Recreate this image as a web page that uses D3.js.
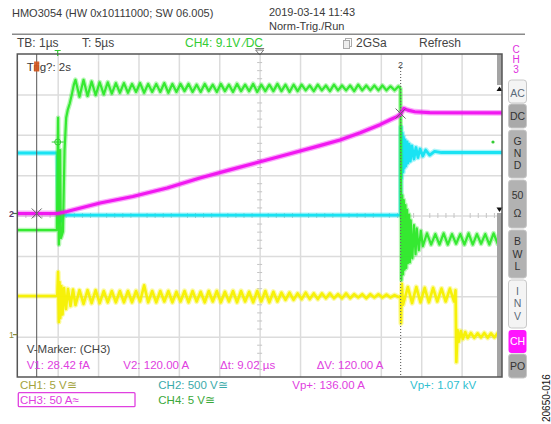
<!DOCTYPE html>
<html><head><meta charset="utf-8">
<script src="https://cdn.jsdelivr.net/npm/d3@7/dist/d3.min.js"></script>
<style>
html,body{margin:0;padding:0;background:#fff;}
svg{display:block;}
text{font-family:"Liberation Sans",Arial,Helvetica,sans-serif;}
</style></head><body>
<svg id="chart" width="551" height="424"></svg>
<script>
// ================= DATA =================
const timeDomain = [-1, 11];                 // µs  (TB 1 µs/div, 12 div, T = 5 µs at centre)
const divDomain  = [-4, 4];                  // vertical divisions
const gridTimes  = [0,1,2,3,4,5,6,7,8,9,10];
const gridDivs   = [-3,-2,-1,0,1,2,3];

const channelNames = ["CH1","CH2","CH3","CH4"];
const unitsPerDiv  = [5, 500, 50, 5];        // V/div, V/div, A/div, V/div
const groundDiv    = [-2.95, 0.05, 0.05, 0]; // reference level of each channel (div)

// --- CH1 (yellow) volts ---
const ch1EdgeT = [-1, -0.01, 0.01, 0.03, 0.045, 0.064, 0.089, 0.119, 0.156, 0.205, 0.255, 0.317, 0.379, 0.44];
const ch1EdgeV = [4.78, 4.78, 7.75, 1.56, 6.5, 2.06, 6.0, 2.5, 5.77, 3.17, 5.65, 3.54, 5.58, 3.66];
const ch1RingStart = 0.54, ch1RingStep = 0.1;
const ch1Ring = [5.5,3.8,5.5,3.9,5.5,3.9,5.4,4.0,5.4,4.0,
                 5.4,4.0,5.4,4.0,5.4,4.1,6.1,4.0,5.4,4.0,
                 5.4,4.1,5.4,4.0,5.3,4.1,5.4,4.0,5.4,4.1,
                 5.3,4.0,5.4,4.1,5.4,4.0,5.3,4.1,5.4,4.0,
                 5.4,4.1,5.3,4.0,5.4,4.1,5.4,4.0,5.3,4.1,
                 5.2,4.3,5.2,4.3,5.1,4.4,5.2,4.4,5.1,4.4,
                 5.1,4.5,5.1,4.5,5.0,4.5,5.1,4.5,5.0,4.6,
                 5.0,4.5,5.0,4.6,5.0,4.6,4.95,4.6,4.9,4.65];
const ch1OffT = [8.49, 8.50, 8.52, 8.55];
const ch1OffV = [4.78, 1.4, 6.3, 3.7];
const ch1Ring2Start = 8.67, ch1Ring2Step = 0.104;
const ch1Ring2 = [5.9,3.9,5.9,4.0,5.8,4.0,5.8,4.1,5.7,4.1,5.7,4.1];
const ch1DropT = [9.85, 9.87, 9.90, 9.93, 9.98, 10.03, 10.09, 10.15];
const ch1DropV = [5.5, -3.4, 0.57, -0.9, 0.45, -0.55, 0.32, -0.42];
const ch1Ring3Start = 10.23, ch1Ring3Step = 0.083;
const ch1Ring3 = [0.2,-0.4,0.15,-0.35,0.2,-0.4,0.15,-0.35,0.2,-0.35];

// --- CH2 (cyan) volts ---
const ch2T = [-1, -0.01, 0.02, 0.05, 0.08, 0.12, 0.16, 8.48,
              8.49, 8.50, 8.51, 8.53, 8.55, 8.56, 8.58, 8.60, 8.62, 8.65, 8.67, 8.70,
              8.73, 8.77, 8.82, 8.87, 8.92, 8.97, 9.04, 9.11, 9.21, 9.33, 9.5, 11];
const ch2V = [749, 749, -120, 30, -90, -30, -20, -20,
              -20, 1070, 437, 996, 514, 947, 563, 910, 588, 885, 625, 860,
              650, 836, 675, 817, 693, 798, 712, 786, 724, 770, 755, 755];

// --- CH3 (magenta) amps ---
const ch3T = [-1, 0, 0.23, 1.05, 1.86, 2.71, 3.52, 4.26, 5.01, 5.75, 6.49, 6.99, 7.49, 7.98, 8.23, 8.40, 8.49, 8.57, 8.67, 8.84, 9.21, 11];
const ch3I = [0, 0, 2.5, 13, 21, 31.6, 44, 54, 64, 74, 84, 91, 100, 110, 116, 120, 123, 130, 128, 126, 125, 124.5];

// --- CH4 (green) volts ---
const ch4EdgeT = [-1, -0.02, 0.01, 0.03, 0.06, 0.08, 0.13, 0.17, 0.21, 0.25, 0.30, 0.35, 0.40, 0.44];
const ch4EdgeV = [-1.8, -1.8, 12.1, -3.6, 8.1, -2.8, -2.0, 8.1, 12.1, 13.1, 13.9, 15.0, 16.2, 16.8];
const ch4RingStart = 0.54, ch4RingStep = 0.1;
const ch4Ring = [14.7,16.8,14.8,16.6,14.9,16.5,15.0,16.5,15.1,16.4,
                 15.2,16.4,15.2,16.3,15.3,16.4,15.2,16.3,15.3,16.3,
                 15.3,16.4,15.2,16.3,15.3,16.3,15.4,16.3,15.3,16.2,
                 15.3,16.3,15.4,16.2,15.3,16.3,15.4,16.2,15.3,16.3,
                 15.4,16.2,15.4,16.3,15.3,16.2,15.4,16.2,15.4,16.3,
                 15.4,16.2,15.3,16.2,15.4,16.2,15.5,16.1,15.4,16.2,
                 15.5,16.1,15.4,16.2,15.5,16.1,15.5,16.1,15.4,16.2,
                 15.5,16.1,15.5,16.1,15.5,16.1,15.5,16.0,15.5,16.0];
const ch4OffT = [8.485, 8.50, 8.51, 8.53, 8.55, 8.57, 8.59, 8.61, 8.63, 8.65, 8.67, 8.70, 8.72, 8.74, 8.78, 8.82, 8.86, 8.89, 8.94, 8.99];
const ch4OffV = [15.7, 1.9, -8.0, 2.5, -7.3, 1.9, -6.7, 1.3, -6.5, 0.7, -5.9, 0.1, -5.8, -0.6, -5.3, -1.2, -4.8, -1.6, -4.3, -1.9];
const ch4Ring2Start = 9.04, ch4Ring2Step = 0.103;
const ch4Ring2 = [-3.8,-2.2,-3.6,-2.3,-3.6,-2.2,-3.6,-2.3,-3.5,-2.3,-3.6,-2.2,-3.6,-2.3,-3.5,-2.3,-3.6,-2.2,-3.5,-2.3];

// markers
const cursorTimes = [-0.52, 8.49];
const ch3MarkerLevels = [0, 120];   // A
const ch4TrigLevel = 9.1;           // V
const triggerTime = 0;

// texts
const headerModel = "HMO3054 (HW 0x10111000; SW 06.005)";
const headerDate = "2019-03-14 11:43";
const headerMode = "Norm-Trig./Run";
const statusTB = "TB: 1µs", statusT = "T: 5µs", statusTrig = "CH4: 9.1V ⁄DC", statusRate = "2GSa", statusAcq = "Refresh";
const markerTitle = "V-Marker: (CH3)";
const markerReadouts = ["V1: 28.42 fA", "V2: 120.00 A", "Δt: 9.02 µs", "ΔV: 120.00 A"];
const channelLabels = ["CH1: 5 V≅", "CH2: 500 V≅", "CH3: 50 A≈", "CH4: 5 V≅"];
const peakReadouts = ["Vp+: 136.00 A", "Vp+: 1.07 kV"];
const sideButtons = [["AC"],["DC"],["G","N","D"],["50","Ω"],["B","W","L"],["I","N","V"],["CH"],["PO"]];
const figureId = "20650-016";

// ================= DRAWING =================
const svg = d3.select("#chart");
const L = 17.3, R = 502, T = 54, B = 377;
const x = d3.scaleLinear().domain(timeDomain).range([L, R]);
const y = d3.scaleLinear().domain(divDomain).range([B, T]);
const yCh = i => v => y(v / unitsPerDiv[i] + groundDiv[i]);

const col = {ch1:"#f6f000", ch2:"#12e2f2", ch3:"#f010f0", ch4:"#2ee82a"};

// header
svg.append("text").attr("x",12).attr("y",16.5).attr("font-size",11).attr("fill","#3a3a3a").text(headerModel);
svg.append("text").attr("x",269).attr("y",16).attr("font-size",11).attr("fill","#3a3a3a").text(headerDate);
svg.append("text").attr("x",269).attr("y",30).attr("font-size",11).attr("fill","#3a3a3a").text(headerMode);
svg.append("line").attr("x1",12).attr("x2",525).attr("y1",34.3).attr("y2",34.3).attr("stroke","#8a8a8a").attr("stroke-width",1.5);

const st = svg.append("g").attr("font-size",12).attr("fill","#444");
st.append("text").attr("x",17).attr("y",46.5).text(statusTB);
st.append("text").attr("x",82).attr("y",46.5).text(statusT);
st.append("text").attr("x",185).attr("y",46.5).attr("fill","#33cc33").text(statusTrig);
st.append("text").attr("x",356).attr("y",46.5).text(statusRate);
st.append("text").attr("x",419).attr("y",46.5).text(statusAcq);
// sample-rate icon
st.append("rect").attr("x",345.5).attr("y",38.5).attr("width",6).attr("height",8).attr("fill","#fff").attr("stroke","#aaa");
st.append("rect").attr("x",343.5).attr("y",40.5).attr("width",6).attr("height",8).attr("fill","#eee").attr("stroke","#aaa");

// plot background + grid
svg.append("rect").attr("x",L).attr("y",T).attr("width",R-L).attr("height",B-T).attr("fill","#fff");
const grid = svg.append("g");
grid.append("g").attr("transform",`translate(0,${B})`)
  .call(d3.axisBottom(x).tickValues(gridTimes).tickSize(-(B-T)).tickFormat(""))
  .call(g=>g.select(".domain").remove())
  .selectAll("line").attr("stroke","#dcdcdc").attr("stroke-width",1.5);
grid.append("g").attr("transform",`translate(${L},0)`)
  .call(d3.axisLeft(y).tickValues(gridDivs).tickSize(-(R-L)).tickFormat(""))
  .call(g=>g.select(".domain").remove())
  .selectAll("line").attr("stroke","#dcdcdc").attr("stroke-width",1.5);
// minor ticks on centre lines
const minorT = d3.range(-0.8, 11, 0.2).filter(t => Math.abs(t - Math.round(t)) > 0.01);
const minorD = d3.range(-3.8, 4, 0.2).filter(d => Math.abs(d - Math.round(d)) > 0.01);
[d3.axisTop, d3.axisBottom].forEach(ax => {
  grid.append("g").attr("transform",`translate(0,${y(0)})`)
    .call(ax(x).tickValues(minorT).tickSize(2.5).tickFormat(""))
    .call(g=>g.select(".domain").remove())
    .selectAll("line").attr("stroke","#c4c4c4");
});
[d3.axisLeft, d3.axisRight].forEach(ax => {
  grid.append("g").attr("transform",`translate(${x(5)},0)`)
    .call(ax(y).tickValues(minorD).tickSize(2.5).tickFormat(""))
    .call(g=>g.select(".domain").remove())
    .selectAll("line").attr("stroke","#c4c4c4");
});

// traces
svg.append("clipPath").attr("id","clip").append("rect").attr("x",L).attr("y",T).attr("width",R-L).attr("height",B-T);
const pairs = (ts, vs) => ts.map((t,i)=>[t, vs[i]]);
const ring = (t0, dt, vs) => vs.map((v,i)=>[t0 + i*dt, v]);

const ch1Pts = [].concat(pairs(ch1EdgeT,ch1EdgeV), ring(ch1RingStart,ch1RingStep,ch1Ring), pairs(ch1OffT,ch1OffV),
  ring(ch1Ring2Start,ch1Ring2Step,ch1Ring2), pairs(ch1DropT,ch1DropV), ring(ch1Ring3Start,ch1Ring3Step,ch1Ring3), [[11, -0.1]]);
const ch2Pts = pairs(ch2T, ch2V);
const ch3Pts = pairs(ch3T, ch3I);
const ch4Pts = [].concat(pairs(ch4EdgeT,ch4EdgeV), ring(ch4RingStart,ch4RingStep,ch4Ring), pairs(ch4OffT,ch4OffV),
  ring(ch4Ring2Start,ch4Ring2Step,ch4Ring2));

const traces = svg.append("g").attr("clip-path","url(#clip)");
function drawTrace(pts, ci, color, w){
  const line = d3.line().x(d=>x(d[0])).y(d=>yCh(ci)(d[1]));
  // noise halo
  traces.append("path").datum(pts).attr("d",line).attr("fill","none")
    .attr("stroke",color).attr("stroke-width",w+2.6).attr("stroke-linejoin","round").attr("stroke-opacity",0.35);
  traces.append("path").datum(pts).attr("d",line).attr("fill","none")
    .attr("stroke",color).attr("stroke-width",w).attr("stroke-linejoin","round").attr("stroke-opacity",0.95);
}
drawTrace(ch1Pts, 0, col.ch1, 2.6);
drawTrace(ch2Pts, 1, col.ch2, 2.8);
drawTrace(ch4Pts, 3, col.ch4, 2.2);
drawTrace(ch3Pts, 2, col.ch3, 3.2);

// cursors
const cx1 = x(cursorTimes[0]), cx2 = x(cursorTimes[1]);
svg.append("line").attr("x1",cx1).attr("x2",cx1).attr("y1",T).attr("y2",B).attr("stroke","#555").attr("stroke-width",1);
svg.append("line").attr("x1",cx2).attr("x2",cx2).attr("y1",68).attr("y2",B).attr("stroke","#6a6a6a").attr("stroke-width",1.2).attr("stroke-dasharray","1,2");
svg.append("text").attr("x",cx2).attr("y",68).attr("font-size",9).attr("text-anchor","middle").attr("fill","#444").text("2");
[[cx1, yCh(2)(ch3MarkerLevels[0])],[cx2, yCh(2)(ch3MarkerLevels[1]) - 3]].forEach(([px,py])=>{
  svg.append("path").attr("d",`M${px-5},${py-5}L${px+5},${py+5}M${px-5},${py+5}L${px+5},${py-5}`)
    .attr("stroke","#666").attr("stroke-width",1).attr("fill","none");
});
// trigger point crosshair & level marker
const ty = yCh(3)(ch4TrigLevel), tx = x(triggerTime);
svg.append("circle").attr("cx",tx).attr("cy",ty).attr("r",3).attr("fill","none").attr("stroke","#33cc33").attr("stroke-width",1);
svg.append("line").attr("x1",tx-6).attr("x2",tx+6).attr("y1",ty).attr("y2",ty).attr("stroke","#33cc33");
svg.append("circle").attr("cx",493).attr("cy",ty).attr("r",1.6).attr("fill","#33cc33");
// top markers
svg.append("path").attr("d",`M${tx-3},50.5H${tx+3}M${tx},50.5V56`).attr("stroke","#33cc33").attr("stroke-width",1.2);
const cxm = x(5);
svg.append("path").attr("d",`M${cxm-4.5},48.5H${cxm+4.5}M${cxm-4},50L${cxm+4},50L${cxm},55Z`).attr("stroke","#777").attr("fill","none");

// "Trig?" text and cursor-1 tag
svg.append("text").attr("x",26.7).attr("y",70.5).attr("font-size",11.5).attr("fill","#3a3a3a").text("Trig?: 2s");
svg.append("rect").attr("x",cx1-2.6).attr("y",61.5).attr("width",5.2).attr("height",10).attr("fill","#d4541c").attr("opacity",0.9);

// scrollbar on right of plot
svg.append("rect").attr("x",497).attr("y",T).attr("width",5).attr("height",31).attr("fill","#a4a4a4");
svg.append("rect").attr("x",497).attr("y",213).attr("width",5).attr("height",B-213).attr("fill","#a4a4a4");
svg.append("path").attr("d","M496.5,91L499.5,86.5L502.5,91Z").attr("fill","#111");
svg.append("path").attr("d","M496.5,207.5L499.5,212L502.5,207.5Z").attr("fill","#111");

// frame
svg.append("rect").attr("x",L).attr("y",T).attr("width",R-L).attr("height",B-T).attr("fill","none").attr("stroke","#555").attr("stroke-width",1.5);

// left reference markers
svg.append("text").attr("x",9).attr("y",217).attr("font-size",9).attr("font-weight","bold").attr("fill","#5a3a6a").text("2");
svg.append("path").attr("d",`M13,${y(0.05)}H${L}`).attr("stroke","#4a6a4a").attr("stroke-width",1.2);
svg.append("text").attr("x",9).attr("y",338).attr("font-size",9).attr("fill","#8c8c3c").text("1");
svg.append("path").attr("d",`M13,${yCh(0)(0)}H${L}`).attr("stroke","#8c8c3c").attr("stroke-width",1.2);

// V-marker readouts
svg.append("text").attr("x",26.7).attr("y",353).attr("font-size",11.5).attr("fill","#444").text(markerTitle);
const mx = [26.7, 123.3, 220, 316.7];
markerReadouts.forEach((s,i)=> svg.append("text").attr("x",mx[i]).attr("y",369).attr("font-size",11.5).attr("fill","#e040e0").text(s));

// channel labels below
const chCol = ["#a3a33c","#3aaaaa","#e040e0","#3aa83a"];
const chX = [20, 158.3, 20, 158.3], chY = [389, 389, 404, 404];
svg.append("rect").attr("x",18.3).attr("y",392.7).attr("width",116.7).attr("height",14).attr("fill","#fff").attr("stroke","#e040e0").attr("stroke-width",1.3).attr("rx",1);
channelLabels.forEach((s,i)=> svg.append("text").attr("x",chX[i]).attr("y",chY[i]).attr("font-size",11.5).attr("fill",chCol[i]).text(s));
svg.append("text").attr("x",292.3).attr("y",389).attr("font-size",11.5).attr("fill","#e040e0").text(peakReadouts[0]);
svg.append("text").attr("x",410).attr("y",389).attr("font-size",11.5).attr("fill","#30c0d0").text(peakReadouts[1]);

// right side panel
["C","H","3"].forEach((c,i)=> svg.append("text").attr("x",516).attr("y",53+10*i).attr("font-size",10).attr("text-anchor","middle").attr("fill","#e030e0").text(c));
const btnY = [[80,103],[104,128],[130,178],[180,228],[230,278],[280,328],[330,353],[354,378]];
const btnBase = [[97],[120],[145,157,169],[199,217],[245,258,270],[295,307,320],[345],[370]];
const btnFill = ["#f4f4f4","#a9a9a9","#b2b2b2","#b2b2b2","#b2b2b2","#f4f4f4","#ff14ff","#a9a9a9"];
const btnText = ["#5a6a7a","#333","#333","#333","#333","#5a6a7a","#fff","#333"];
sideButtons.forEach((lines,i)=>{
  svg.append("rect").attr("x",508.5).attr("y",btnY[i][0]).attr("width",18).attr("height",btnY[i][1]-btnY[i][0])
    .attr("rx",3).attr("fill",btnFill[i]).attr("stroke", i===6 ? "none" : "#c8c8c8").attr("stroke-width",1);
  lines.forEach((s,j)=> svg.append("text").attr("x",517.5).attr("y",btnBase[i][j]).attr("font-size",10.5)
    .attr("text-anchor","middle").attr("fill",btnText[i]).text(s));
});

// figure id
svg.append("text").attr("transform","translate(549.5,422) rotate(-90)").attr("font-size",10).attr("fill","#111").text(figureId);
</script></body></html>
